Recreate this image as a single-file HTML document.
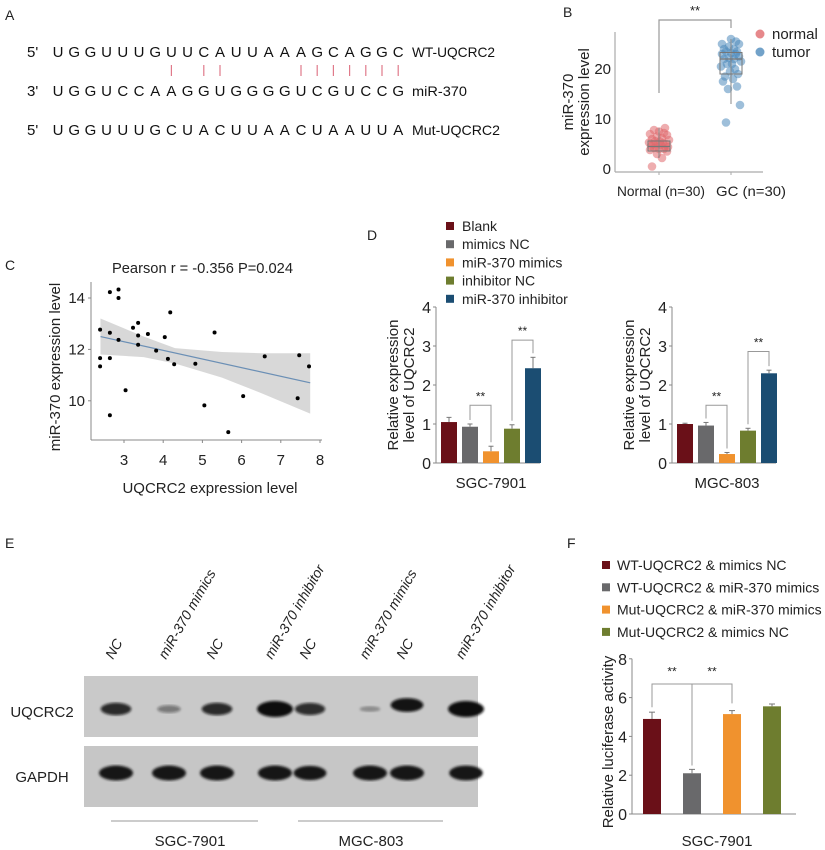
<!DOCTYPE html>
<html><head><meta charset="utf-8">
<style>
html,body{margin:0;padding:0;background:#fff;}
svg{display:block;font-family:"Liberation Sans",Arial,sans-serif;}
</style></head>
<body>
<svg id="fig" width="825" height="850" viewBox="0 0 825 850" xmlns="http://www.w3.org/2000/svg">
<defs>
<filter id="blur2"><feGaussianBlur stdDeviation="1.2"/></filter>
</defs>
<g id="panelA"></g>
<g id="panelB"></g>
<g id="panelC"></g>
<g id="panelD"></g>
<g id="panelE"></g>
<g id="panelF"></g>
</svg>
<script>
// ---------- data ----------
const seqWT = "UGGUUUGUUCAUUAAAGCAGGC";
const seqMiR = "UGGUCCAAGGUGGGGUCGUCCG";
const seqMut = "UGGUUUGCUACUUAACUAAUUA";
const pairIdx = [7,9,10,15,16,17,18,19,20,21];

const bNormal = [0.5,2.2,3,3.5,3.8,4,4,4.2,4.4,4.5,4.5,4.6,4.8,5,5,5.1,5.2,5.3,5.5,5.6,5.8,6,6.2,6.5,6.8,7,7.2,7.5,7.8,8.2];
const bTumor = [9.3,12.8,16,16.5,17.5,18,18.5,19,19.5,20,20.5,21,21,21.5,22,22,22.2,22.5,23,23,23.2,23.5,23.5,24,24,24.5,25,25,25.5,26];
const bBoxNormal = [3.6,4.5,5.6,2.2,8.2];
const bBoxTumor = [19,22,23.3,13,26];
const bTicks = [0,10,20];

const cX = [2.39,2.39,2.39,2.64,2.86,2.86,2.64,2.64,2.64,2.86,3.04,3.23,3.36,3.36,3.36,3.61,3.82,4.04,4.12,4.18,4.28,4.82,5.31,5.05,5.66,6.04,6.59,7.47,7.43,7.72];
const cY = [12.77,11.66,11.34,14.23,14.33,14.0,12.65,11.66,9.44,12.37,10.41,12.84,13.03,12.54,12.18,12.6,11.95,12.48,11.63,13.44,11.42,11.44,12.66,9.82,8.78,10.18,11.73,11.77,10.1,11.34];
const cFit = [2.4,12.5,7.75,10.7];
const cBandX = [2.4,3.5,4.3,5.5,6.5,7.75];
const cBandHi = [13.2,12.5,12.05,11.9,11.85,11.85];
const cBandLo = [11.8,11.7,11.45,10.9,10.3,9.5];
const cXTicks = [3,4,5,6,7,8];
const cYTicks = [10,12,14];

const dCats = ["Blank","mimics NC","miR-370 mimics","inhibitor NC","miR-370 inhibitor"];
const dColors = ["#6a1018","#69696b","#f0922e","#6e7d2f","#1b4d72"];
const dSGC = [1.05,0.93,0.3,0.88,2.43];
const dSGCerr = [0.12,0.07,0.13,0.1,0.28];
const dMGC = [1.0,0.96,0.23,0.83,2.3];
const dMGCerr = [0.02,0.08,0.04,0.06,0.08];
const dTicks = [0,1,2,3,4];

const eLanes = ["NC","miR-370 mimics","NC","miR-370 inhibitor","NC","miR-370 mimics","NC","miR-370 inhibitor"];
const eUQ = [0.7,0.3,0.7,1.0,0.68,0.15,0.82,1.0];
const eGAPDH = [1,1,1,1,0.85,1,1,0.95];

const fCats = ["WT-UQCRC2 & mimics NC","WT-UQCRC2 & miR-370 mimics","Mut-UQCRC2 & miR-370 mimics","Mut-UQCRC2 & mimics NC"];
const fColors = ["#6a1018","#69696b","#f0922e","#6e7d2f"];
const fVals = [4.9,2.1,5.15,5.55];
const fErr = [0.35,0.2,0.18,0.12];
const fTicks = [0,2,4,6,8];

// ---------- helpers ----------
const NS="http://www.w3.org/2000/svg";
function mk(parent,tag,attrs,text){const e=document.createElementNS(NS,tag);for(const k in attrs)e.setAttribute(k,attrs[k]);if(text!==undefined)e.textContent=text;parent.appendChild(e);return e;}

// ---------- Panel A ----------
const A=document.getElementById('panelA');
let t=mk(A,'text',{x:5,y:20,'font-size':14,fill:'#222'},'A');

function seqRow(seq,prefix,label,y,name,lw){
  const g=mk(A,'g',{});
  
  mk(g,'text',{x:27,y:y,'font-size':15,fill:'#111'},prefix);
  for(let i=0;i<seq.length;i++) mk(g,'text',{x:58+i*16.2,y:y,'font-size':15,fill:'#111','text-anchor':'middle'},seq[i]);
  mk(g,'text',{x:412,y:y,'font-size':14,fill:'#111',textLength:lw,lengthAdjust:'spacingAndGlyphs'},label);
}
seqRow(seqWT,"5'","WT-UQCRC2",57,'wt-sequence',83);
seqRow(seqMiR,"3'","miR-370",96,'mir-370-sequence',55);
seqRow(seqMut,"5'","Mut-UQCRC2",135,'mut-sequence',88);
const pg=mk(A,'g',{});
pairIdx.forEach(i=>mk(pg,'line',{x1:58+i*16.2,x2:58+i*16.2,y1:65,y2:76,stroke:'#e07a8a','stroke-width':1.2}));

// ---------- Panel B ----------
const B=document.getElementById('panelB');
t=mk(B,'text',{x:563,y:17,'font-size':14,fill:'#222'},'B');
const bx0=615,by0=169,bySc=(169-69)/20;
const bY=v=>by0-v*bySc;
mk(B,'line',{x1:bx0,y1:32,x2:bx0,y2:172,stroke:'#aaa','stroke-width':1.2});
mk(B,'line',{x1:bx0,y1:172,x2:763,y2:172,stroke:'#aaa','stroke-width':1.2});
bTicks.forEach(v=>{const e=mk(B,'text',{x:611,y:bY(v)+5,'font-size':15,'text-anchor':'end',fill:'#222'},String(v));});
[[659,617,'Normal (n=30)',88],[731,716,'GC (n=30)',70]].forEach(([x,lx,s,w])=>{mk(B,'line',{x1:x,x2:x,y1:172,y2:175,stroke:'#aaa'});const e=mk(B,'text',{x:lx,y:196,'font-size':14,fill:'#222',textLength:w,lengthAdjust:'spacingAndGlyphs'},s);});
let yl=mk(B,'text',{x:0,y:0,'font-size':15,'text-anchor':'middle',fill:'#222',transform:'translate(573,102) rotate(-90)'},'miR-370');

mk(B,'text',{x:0,y:0,'font-size':15,'text-anchor':'middle',fill:'#222',transform:'translate(589,102) rotate(-90)'},'expression level');
function box(cx,b){
  mk(B,'line',{x1:cx,x2:cx,y1:bY(b[4]),y2:bY(b[3]),stroke:'#888','stroke-width':1});
  mk(B,'rect',{x:cx-11,y:bY(b[2]),width:22,height:bY(b[0])-bY(b[2]),fill:'none',stroke:'#777','stroke-width':1});
  mk(B,'line',{x1:cx-11,x2:cx+11,y1:bY(b[1]),y2:bY(b[1]),stroke:'#777','stroke-width':1.2});
}
const jit=[-7,3,-2,8,-9,5,0,-5,9,-3,6,-8,2,-6,7,-1,4,-10,1,-4,10,-7,3,-2,8,-9,5,0,-5,6];
bNormal.forEach((v,i)=>{const c=mk(B,'circle',{cx:659+jit[i],cy:bY(v),r:4.3,fill:'#e06a6e','fill-opacity':0.55});});
bTumor.forEach((v,i)=>{const c=mk(B,'circle',{cx:731+jit[(i+7)%30],cy:bY(v),r:4.3,fill:'#4f8bbb','fill-opacity':0.55});});
box(659,bBoxNormal);box(731,bBoxTumor);
mk(B,'path',{d:'M659,93 V20 H731 V28',fill:'none',stroke:'#999','stroke-width':1.2});
mk(B,'text',{x:695,y:15,'font-size':13,'text-anchor':'middle',fill:'#222'},'**');
[['normal','#e06a6e',34],['tumor','#4f8bbb',52]].forEach(([s,c,y])=>{const g=mk(B,'g',{});mk(g,'circle',{cx:760,cy:y,r:4.5,fill:c,'fill-opacity':0.8});mk(g,'text',{x:772,y:y+5,'font-size':15,fill:'#222'},s);});

// ---------- Panel C ----------
const C=document.getElementById('panelC');
t=mk(C,'text',{x:5,y:270,'font-size':14,fill:'#222'},'C');
const cXs=v=>124+(v-3)*39.2, cYs=v=>298+(14-v)*25.7;
t=mk(C,'text',{x:112,y:273,'font-size':15,fill:'#222',textLength:181,lengthAdjust:'spacingAndGlyphs'},'Pearson r = -0.356   P=0.024');
mk(C,'line',{x1:91,y1:282,x2:91,y2:440,stroke:'#888'});
mk(C,'line',{x1:91,y1:440,x2:322,y2:440,stroke:'#888'});
cXTicks.forEach(v=>{mk(C,'line',{x1:cXs(v),x2:cXs(v),y1:440,y2:443,stroke:'#888'});const e=mk(C,'text',{x:cXs(v),y:465,'font-size':15,'text-anchor':'middle',fill:'#222'},String(v));});
cYTicks.forEach(v=>{mk(C,'line',{x1:88,x2:91,y1:cYs(v),y2:cYs(v),stroke:'#888'});const e=mk(C,'text',{x:85,y:cYs(v)+5,'font-size':15,'text-anchor':'end',fill:'#222'},String(v));});
t=mk(C,'text',{x:0,y:0,'font-size':15,'text-anchor':'middle',fill:'#222',transform:'translate(60,367) rotate(-90)'},'miR-370 expression level');
t=mk(C,'text',{x:210,y:493,'font-size':15,'text-anchor':'middle',fill:'#222'},'UQCRC2 expression level');
let bp='M'+cBandX.map((x,i)=>cXs(x)+','+cYs(cBandHi[i])).join(' L');
for(let i=cBandX.length-1;i>=0;i--) bp+=' L'+cXs(cBandX[i])+','+cYs(cBandLo[i]);
t=mk(C,'path',{d:bp+'Z',fill:'#d4d4d4','fill-opacity':0.9});
t=mk(C,'line',{x1:cXs(cFit[0]),y1:cYs(cFit[1]),x2:cXs(cFit[2]),y2:cYs(cFit[3]),stroke:'#6b8fb5','stroke-width':1.2});
cX.forEach((x,i)=>{const c=mk(C,'circle',{cx:cXs(x),cy:cYs(cY[i]),r:2,fill:'#000'});});

// ---------- Panel D ----------
const D=document.getElementById('panelD');
t=mk(D,'text',{x:367,y:240,'font-size':14,fill:'#222'},'D');
dCats.forEach((s,i)=>{const g=mk(D,'g',{});const y=226+i*18.2;mk(g,'rect',{x:446,y:y-4,width:8,height:8,fill:dColors[i]});mk(g,'text',{x:462,y:y+5,'font-size':14,fill:'#222'},s);});
const dY=v=>463-v*39;
function dChart(ax,vals,errs,br1,br2,label,lx,nm){
  const g=mk(D,'g',{});
  mk(g,'line',{x1:ax,y1:dY(4),x2:ax,y2:dY(0),stroke:'#888'});
  mk(g,'line',{x1:ax,y1:dY(0),x2:ax+104,y2:dY(0),stroke:'#888'});
  dTicks.forEach(v=>{mk(g,'line',{x1:ax-3,x2:ax,y1:dY(v),y2:dY(v),stroke:'#888'});mk(g,'text',{x:ax-5,y:dY(v)+6,'font-size':16,'text-anchor':'end',fill:'#222'},String(v));});
  const cx=i=>ax+13+i*21;
  vals.forEach((v,i)=>{
    const r=mk(g,'rect',{x:cx(i)-8,y:dY(v),width:16,height:dY(0)-dY(v),fill:dColors[i]});
    
    mk(g,'line',{x1:cx(i),x2:cx(i),y1:dY(v),y2:dY(v+errs[i]),stroke:'#777'});
    mk(g,'line',{x1:cx(i)-2.5,x2:cx(i)+2.5,y1:dY(v+errs[i]),y2:dY(v+errs[i]),stroke:'#777'});
  });
  [[1,2,br1],[3,4,br2]].forEach(([a,b,h])=>{
    mk(g,'path',{d:`M${cx(a)},${dY(vals[a]+errs[a])-4} V${dY(h)} H${cx(b)} V${dY(vals[b]+errs[b])-4}`,fill:'none',stroke:'#999'});
    mk(g,'text',{x:(cx(a)+cx(b))/2,y:dY(h)-5,'font-size':12,'text-anchor':'middle',fill:'#222'},'**');
  });
  mk(g,'text',{x:0,y:0,'font-size':15,'text-anchor':'middle',fill:'#222',transform:`translate(${ax-38},385) rotate(-90)`},'Relative expression');
  mk(g,'text',{x:0,y:0,'font-size':15,'text-anchor':'middle',fill:'#222',transform:`translate(${ax-22},385) rotate(-90)`},'level of UQCRC2');
  mk(g,'text',{x:lx,y:488,'font-size':15,'text-anchor':'middle',fill:'#222'},label);
}
dChart(436,dSGC,dSGCerr,1.48,3.15,'SGC-7901',491,'d-chart-sgc7901');
dChart(672,dMGC,dMGCerr,1.48,2.86,'MGC-803',727,'d-chart-mgc803');

// ---------- Panel E ----------
const E=document.getElementById('panelE');
t=mk(E,'text',{x:5,y:548,'font-size':14,fill:'#222'},'E');
const eX=[116,169,217,275,310,370,407,466];
eLanes.forEach((s,i)=>{const e=mk(E,'text',{x:0,y:0,'font-size':14,'font-style':'italic',fill:'#222',transform:`translate(${eX[i]-3},660) rotate(-60)`},s);});
t=mk(E,'rect',{x:84,y:676,width:394,height:61,fill:'#c9c9c9'});
t=mk(E,'rect',{x:84,y:746,width:394,height:61,fill:'#c6c6c6'});
eUQ.forEach((v,i)=>{const b=mk(E,'ellipse',{cx:eX[i],cy:i==6?705:709,rx:9+v*9,ry:2+v*6,fill:'#111','fill-opacity':Math.min(1,0.15+v),filter:'url(#blur2)'});});
eGAPDH.forEach((v,i)=>{const b=mk(E,'ellipse',{cx:eX[i],cy:773,rx:13+v*4,ry:5+v*2.5,fill:'#151515',filter:'url(#blur2)'});});
mk(E,'text',{x:42,y:717,'font-size':15,'text-anchor':'middle',fill:'#222'},'UQCRC2');
mk(E,'text',{x:42,y:782,'font-size':15,'text-anchor':'middle',fill:'#222'},'GAPDH');
mk(E,'line',{x1:111,x2:258,y1:821,y2:821,stroke:'#999'});
mk(E,'line',{x1:298,x2:443,y1:821,y2:821,stroke:'#999'});
mk(E,'text',{x:190,y:846,'font-size':15,'text-anchor':'middle',fill:'#222'},'SGC-7901');
mk(E,'text',{x:371,y:846,'font-size':15,'text-anchor':'middle',fill:'#222'},'MGC-803');

// ---------- Panel F ----------
const F=document.getElementById('panelF');
t=mk(F,'text',{x:567,y:548,'font-size':14,fill:'#222'},'F');
fCats.forEach((s,i)=>{const g=mk(F,'g',{});const y=565+i*22.3;mk(g,'rect',{x:602,y:y-4,width:8,height:8,fill:fColors[i]});mk(g,'text',{x:617,y:y+5,'font-size':14,fill:'#222'},s);});
const fY=v=>814-v*19.4;
mk(F,'line',{x1:632,y1:fY(8),x2:632,y2:fY(0),stroke:'#888'});
mk(F,'line',{x1:632,y1:fY(0),x2:796,y2:fY(0),stroke:'#888'});
fTicks.forEach(v=>{mk(F,'line',{x1:629,x2:632,y1:fY(v),y2:fY(v),stroke:'#888'});const e=mk(F,'text',{x:627,y:fY(v)+6,'font-size':16,'text-anchor':'end',fill:'#222'},String(v));});
const fcx=i=>652+i*40;
fVals.forEach((v,i)=>{
  const r=mk(F,'rect',{x:fcx(i)-9,y:fY(v),width:18,height:fY(0)-fY(v),fill:fColors[i]});
  
  mk(F,'line',{x1:fcx(i),x2:fcx(i),y1:fY(v),y2:fY(v+fErr[i]),stroke:'#777'});
  mk(F,'line',{x1:fcx(i)-3,x2:fcx(i)+3,y1:fY(v+fErr[i]),y2:fY(v+fErr[i]),stroke:'#777'});
});
mk(F,'path',{d:`M${fcx(0)},${fY(5.5)} V${fY(6.7)} H${fcx(2)} V${fY(5.7)} M${fcx(1)},${fY(2.5)} V${fY(6.7)}`,fill:'none',stroke:'#999'});
mk(F,'text',{x:(fcx(0)+fcx(1))/2,y:fY(7.15),'font-size':12,'text-anchor':'middle',fill:'#222'},'**');
mk(F,'text',{x:(fcx(1)+fcx(2))/2,y:fY(7.15),'font-size':12,'text-anchor':'middle',fill:'#222'},'**');
t=mk(F,'text',{x:0,y:0,'font-size':15,'text-anchor':'middle',fill:'#222',transform:'translate(613,742) rotate(-90)'},'Relative luciferase activity');
mk(F,'text',{x:717,y:846,'font-size':15,'text-anchor':'middle',fill:'#222'},'SGC-7901');
</script>
</body></html>
